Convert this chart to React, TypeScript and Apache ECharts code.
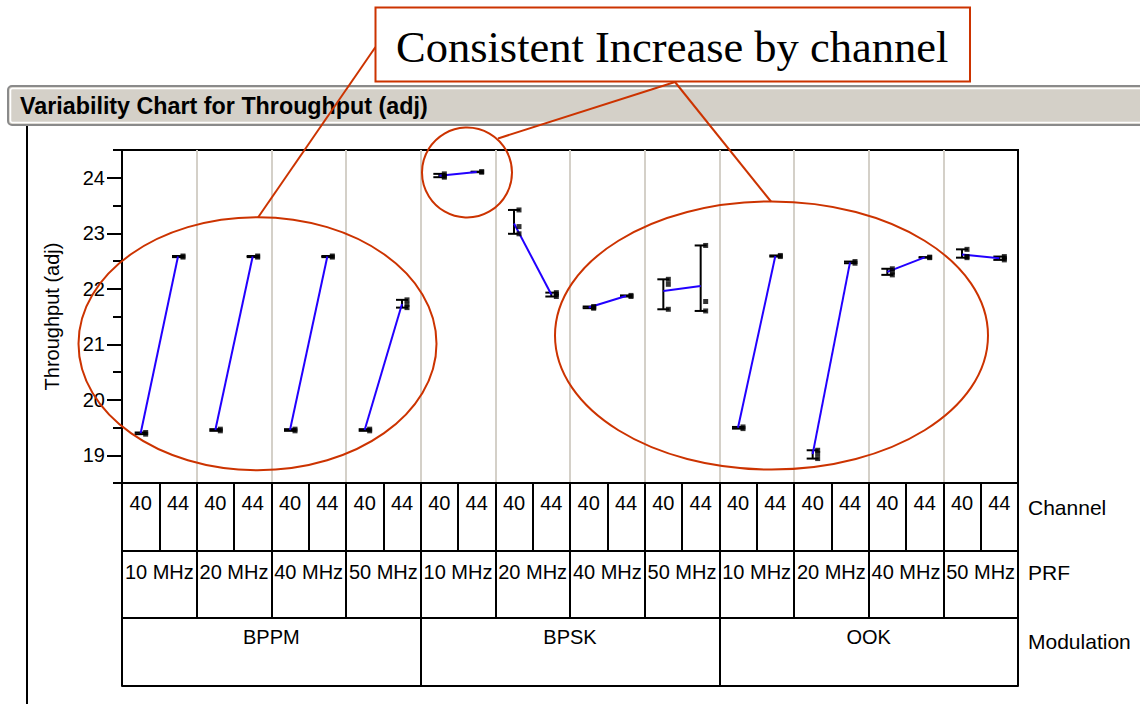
import React, { useEffect, useRef } from "react";
import * as echarts from "echarts";

// ---- data ----
const channels = ["40", "44"];
const prfLevels = ["10 MHz", "20 MHz", "40 MHz", "50 MHz"];
const modulations = ["BPPM", "BPSK", "OOK"];
const rowNames = ["Channel", "PRF", "Modulation"];
const yTickValues = [19, 20, 21, 22, 23, 24];
const yMinorTickValues = [18.5, 19.5, 20.5, 21.5, 22.5, 23.5, 24.5];

// observations per cell, order: PRF 10/20/40/50, each channel 40 then 44
const bppmObs = [
  [19.41, 19.38], [22.59, 22.57],
  [19.47, 19.44], [22.59, 22.57],
  [19.47, 19.44], [22.59, 22.57],
  [19.47, 19.44], [21.8, 21.72, 21.66],
];
const bpskObs = [
  [24.07, 24.03, 24.01], [24.11, 24.1],
  [23.42, 23.12, 22.99], [21.93, 21.9, 21.86],
  [21.68, 21.66, 21.65], [21.88, 21.86],
  [22.17, 22.08, 21.63], [22.78, 21.77, 21.6],
];
const ookObs = [
  [19.51, 19.48], [22.6, 22.58],
  [19.09, 19.03, 18.94], [22.49, 22.46],
  [22.36, 22.3, 22.25], [22.57, 22.56],
  [22.71, 22.58, 22.56], [22.58, 22.55, 22.52],
];

const FONT = '"Liberation Sans", Arial, Helvetica, sans-serif';
const RED = "#cc3300";

export default function App() {
  const ref = useRef<HTMLDivElement>(null);

  useEffect(() => {
    if (!ref.current) return;
    const chart = echarts.init(ref.current, null, { renderer: "svg" });

    const cells = [...bppmObs, ...bpskObs, ...ookObs];
    const channelAxis = modulations.flatMap(() => prfLevels.flatMap(() => channels));
    const prfAxis = modulations.flatMap(() => prfLevels);
    const mean = (a: number[]) => a.reduce((s, v) => s + v, 0) / a.length;

    const rangeData = cells.map((c, i) => [i, Math.min(...c), Math.max(...c)]);
    const pointData = cells.flatMap((c, i) => c.map((v) => [i, v]));
    const groupCount = cells.length / 2;
    const lineSeries = Array.from({ length: groupCount }, (_, g) => ({
      type: "line",
      xAxisIndex: 0,
      yAxisIndex: 0,
      data: [
        [2 * g, mean(cells[2 * g])],
        [2 * g + 1, mean(cells[2 * g + 1])],
      ],
      showSymbol: false,
      symbol: "none",
      lineStyle: { color: "#2200ff", width: 2 },
      z: 4,
      silent: true,
    }));

    const labelStyle = { color: "#000", fontSize: 20, fontFamily: FONT };
    const blackLine = { show: true, onZero: false, lineStyle: { color: "#000", width: 2 } };

    const rowNameY = [507, 572, 641];

    const option: any = {
      animation: false,
      backgroundColor: "#fff",
      grid: {
        left: 122,
        top: 150,
        width: 896,
        height: 333,
        show: true,
        borderColor: "#000",
        borderWidth: 2,
        backgroundColor: "transparent",
        containLabel: false,
        outerBoundsMode: "none",
      },
      xAxis: [
        {
          type: "category",
          data: channelAxis,
          position: "bottom",
          axisLine: blackLine,
          axisTick: { show: true, interval: 0, length: 68, lineStyle: { color: "#000", width: 2 } },
          axisLabel: { ...labelStyle, interval: 0, margin: 10 },
          splitLine: { show: false },
        },
        {
          type: "category",
          data: prfAxis,
          position: "bottom",
          offset: 68,
          axisLine: blackLine,
          axisTick: { show: true, interval: 0, length: 67, lineStyle: { color: "#000", width: 2 } },
          axisLabel: { ...labelStyle, interval: 0, margin: 11 },
          splitLine: { show: true, interval: 0, lineStyle: { color: "#d4d0c8", width: 2 } },
        },
        {
          type: "category",
          data: modulations,
          position: "bottom",
          offset: 135,
          axisLine: blackLine,
          axisTick: { show: true, interval: 0, length: 68, lineStyle: { color: "#000", width: 2 } },
          axisLabel: { ...labelStyle, interval: 0, margin: 9 },
          splitLine: { show: false },
        },
        {
          type: "category",
          data: [""],
          position: "bottom",
          offset: 203,
          axisLine: blackLine,
          axisTick: { show: false },
          axisLabel: { show: false },
          splitLine: { show: false },
        },
      ],
      yAxis: [
        {
          type: "value",
          min: 18.5,
          max: 24.5,
          position: "left",
          axisLine: blackLine,
          axisTick: { show: true, customValues: yTickValues, length: 15, lineStyle: { color: "#000", width: 2 } },
          axisLabel: { ...labelStyle, customValues: yTickValues, margin: 17 },
          splitLine: { show: false },
          name: "Throughput (adj)",
          nameLocation: "middle",
          nameGap: 60,
          nameRotate: 90,
          nameMoveOverlap: false,
          nameTextStyle: { ...labelStyle },
        },
        {
          type: "value",
          min: 18.5,
          max: 24.5,
          position: "left",
          axisLine: { show: false },
          axisTick: { show: true, customValues: yMinorTickValues, length: 9, lineStyle: { color: "#000", width: 2 } },
          axisLabel: { show: false },
          splitLine: { show: false },
        },
        {
          type: "value",
          min: 18.5,
          max: 24.5,
          position: "right",
          axisLine: blackLine,
          axisTick: { show: false },
          axisLabel: { show: false },
          splitLine: { show: false },
        },
      ],
      series: [
        {
          type: "custom",
          xAxisIndex: 0,
          yAxisIndex: 0,
          data: rangeData,
          encode: { x: 0, y: [1, 2] },
          z: 3,
          silent: true,
          renderItem: (params: any, api: any) => {
            const x = api.value(0);
            const lo = api.coord([x, api.value(1)]);
            const hi = api.coord([x, api.value(2)]);
            const cx = lo[0];
            const w = 6;
            const st = { stroke: "#000", lineWidth: 2 };
            return {
              type: "group",
              children: [
                { type: "line", shape: { x1: cx, y1: lo[1], x2: cx, y2: hi[1] }, style: st },
                { type: "line", shape: { x1: cx - w, y1: lo[1], x2: cx + w, y2: lo[1] }, style: st },
                { type: "line", shape: { x1: cx - w, y1: hi[1], x2: cx + w, y2: hi[1] }, style: st },
              ],
            };
          },
        },
        ...lineSeries,
        {
          type: "scatter",
          xAxisIndex: 0,
          yAxisIndex: 0,
          data: pointData,
          symbol: "rect",
          symbolSize: 5,
          symbolOffset: [5, 0],
          itemStyle: { color: "#000" },
          z: 5,
          silent: true,
        },
      ],
      graphic: [
        // title bar
        {
          type: "rect",
          z: 1,
          shape: { x: 8, y: 86, width: 1150, height: 39, r: 4 },
          style: { fill: "#d4d0c8", stroke: "#8a8a8a", lineWidth: 2 },
        },
        {
          type: "rect",
          z: 1,
          shape: { x: 10.5, y: 88.5, width: 1150, height: 34, r: 2 },
          style: { fill: "none", stroke: "#ffffff", lineWidth: 1.5 },
        },
        {
          type: "text",
          z: 2,
          x: 20,
          y: 106,
          style: {
            text: "Variability Chart for Throughput (adj)",
            fontSize: 23.3,
            fontWeight: "bold",
            fontFamily: FONT,
            fill: "#000",
            align: "left",
            verticalAlign: "middle",
          },
        },
        // row names of the table
        ...rowNames.map((t, i) => ({
          type: "text",
          z: 2,
          x: 1028,
          y: rowNameY[i],
          style: {
            text: t,
            fontSize: 21,
            fontFamily: FONT,
            fill: "#000",
            align: "left",
            verticalAlign: "middle",
          },
        })),
        // frame line on the left
        {
          type: "line",
          z: 1,
          shape: { x1: 27, y1: 126, x2: 27, y2: 704 },
          style: { stroke: "#000", lineWidth: 2 },
        },
        // annotation
        {
          type: "line",
          z: 50,
          shape: { x1: 375.5, y1: 47, x2: 258, y2: 217.5 },
          style: { stroke: RED, lineWidth: 2 },
        },
        {
          type: "line",
          z: 50,
          shape: { x1: 675, y1: 82, x2: 498, y2: 138.5 },
          style: { stroke: RED, lineWidth: 2 },
        },
        {
          type: "line",
          z: 50,
          shape: { x1: 675, y1: 82, x2: 771, y2: 201.5 },
          style: { stroke: RED, lineWidth: 2 },
        },
        {
          type: "rect",
          z: 51,
          shape: { x: 375.5, y: 7.5, width: 594.5, height: 74 },
          style: { fill: "#fff", stroke: RED, lineWidth: 2 },
        },
        {
          type: "text",
          z: 52,
          x: 396,
          y: 47,
          style: {
            text: "Consistent Increase by channel",
            fontSize: 44.5,
            fontFamily: '"Liberation Serif", "Times New Roman", serif',
            fill: "#000",
            align: "left",
            verticalAlign: "middle",
          },
        },
        {
          type: "ellipse",
          z: 50,
          shape: { cx: 257.5, cy: 343.7, rx: 179, ry: 126.5 },
          style: { fill: "none", stroke: RED, lineWidth: 2 },
        },
        {
          type: "circle",
          z: 50,
          shape: { cx: 467, cy: 172.5, r: 45 },
          style: { fill: "none", stroke: RED, lineWidth: 2 },
        },
        {
          type: "ellipse",
          z: 50,
          shape: { cx: 771.5, cy: 335.5, rx: 216.5, ry: 134 },
          style: { fill: "none", stroke: RED, lineWidth: 2 },
        },
      ],
    };

    chart.setOption(option);
    return () => chart.dispose();
  }, []);

  return (
    <div
      ref={ref}
      style={{ position: "absolute", left: 0, top: 0, width: 1140, height: 704 }}
    />
  );
}
